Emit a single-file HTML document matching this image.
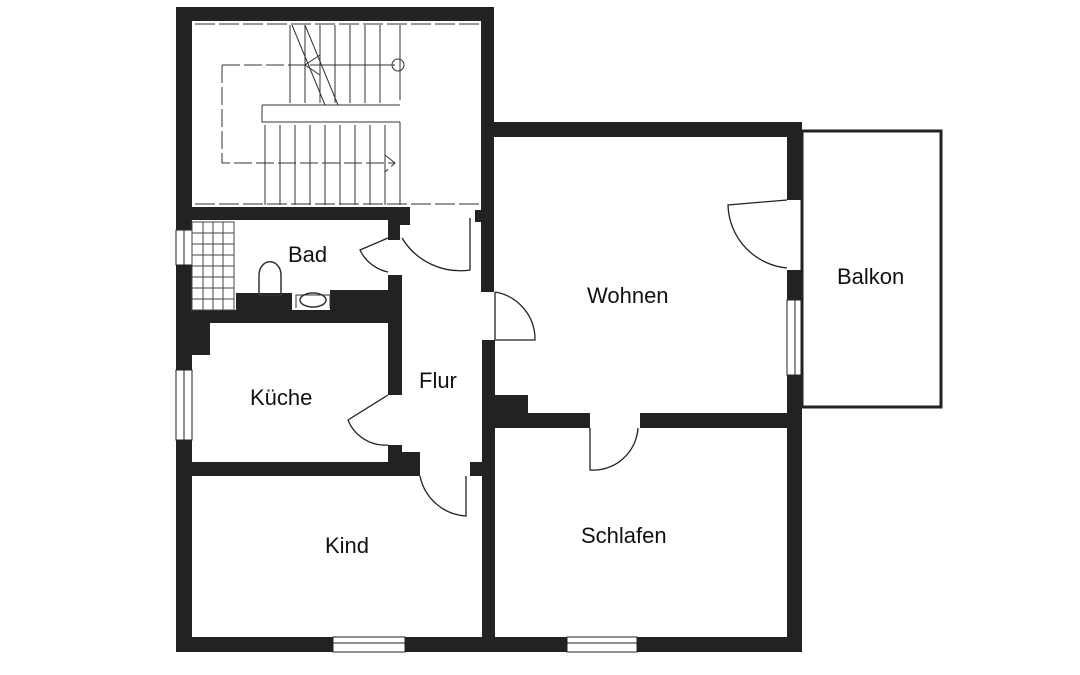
<!DOCTYPE html>
<html><head><meta charset="utf-8"><style>
html,body{margin:0;padding:0;background:#fff;width:1080px;height:675px;overflow:hidden}
svg text{font-family:"Liberation Sans",sans-serif;font-size:22px;fill:#111}
</style></head><body>
<svg width="1080" height="675" viewBox="0 0 1080 675" xmlns="http://www.w3.org/2000/svg">
<g fill="#222">
<rect x="176" y="7" width="318" height="14"/>
<rect x="176" y="7" width="16" height="645"/>
<rect x="481" y="7" width="13" height="200"/>
<rect x="192" y="207" width="218" height="13"/>
<rect x="400" y="213" width="10" height="12"/>
<rect x="475" y="210" width="8" height="12"/>
<rect x="481" y="207" width="13" height="85"/>
<rect x="494" y="122" width="308" height="15"/>
<rect x="787" y="122" width="15" height="78"/>
<rect x="787" y="270" width="15" height="30"/>
<rect x="787" y="375" width="15" height="277"/>
<rect x="482" y="340" width="13" height="297"/>
<rect x="495" y="395" width="33" height="20"/>
<rect x="495" y="413" width="95" height="15"/>
<rect x="640" y="413" width="162" height="15"/>
<rect x="176" y="637" width="157" height="15"/>
<rect x="405" y="637" width="162" height="15"/>
<rect x="637" y="637" width="165" height="15"/>
<rect x="388" y="220" width="12" height="20"/>
<rect x="388" y="275" width="14" height="120"/>
<rect x="192" y="310" width="210" height="13"/>
<rect x="236" y="293" width="56" height="17"/>
<rect x="330" y="290" width="70" height="20"/>
<rect x="192" y="323" width="18" height="32"/>
<rect x="176" y="265" width="16" height="105"/>
<rect x="388" y="445" width="14" height="20"/>
<rect x="192" y="462" width="228" height="14"/>
<rect x="470" y="462" width="12" height="14"/>
<rect x="400" y="452" width="20" height="12"/>
</g>
<g fill="#fff" stroke="#222" stroke-width="1">
<rect x="176" y="230" width="16" height="35"/>
<rect x="176" y="370" width="16" height="70"/>
<rect x="333" y="637" width="72" height="15"/>
<rect x="567" y="637" width="70" height="15"/>
<rect x="787" y="300" width="15" height="75"/>
</g>
<g stroke="#222" stroke-width="1">
<line x1="184" y1="230" x2="184" y2="265"/><line x1="184" y1="370" x2="184" y2="440"/>
<line x1="333" y1="643" x2="405" y2="643"/><line x1="567" y1="643" x2="637" y2="643"/>
<line x1="795" y1="300" x2="795" y2="375"/>
</g>
<rect x="802" y="131" width="139" height="276" fill="none" stroke="#222" stroke-width="3"/>
<g fill="none" stroke="#222" stroke-width="1.3">
<path d="M470 218 L470 270 A68 68 0 0 1 402 238"/>
<path d="M495 292 L495 340 L535 340 A48 48 0 0 0 495 292"/>
<path d="M388 238 L360 250 A40 40 0 0 0 388 272"/>
<path d="M388 395 L348 420 A40 40 0 0 0 388 445"/>
<path d="M420 476 A50 50 0 0 0 466 516 L466 476"/>
<path d="M590 428 L590 470 A45 45 0 0 0 638 428"/>
<path d="M787 200 L728 205 A65 65 0 0 0 787 268"/>
</g>
<g stroke="#333" stroke-width="1" fill="none">
<line x1="195" y1="24" x2="480" y2="24" stroke-dasharray="20 4"/>
<line x1="195" y1="204" x2="480" y2="204" stroke-dasharray="20 4"/>
<line x1="400" y1="25" x2="400" y2="100"/>
<line x1="400" y1="122" x2="400" y2="205"/>
<line x1="290" y1="25" x2="290" y2="103"/><line x1="305" y1="25" x2="305" y2="103"/><line x1="320" y1="25" x2="320" y2="103"/>
<line x1="335" y1="25" x2="335" y2="103"/><line x1="350" y1="25" x2="350" y2="103"/><line x1="365" y1="25" x2="365" y2="103"/><line x1="380" y1="25" x2="380" y2="103"/>
<path d="M292 25 L325 105"/><path d="M305 25 L338 105"/>
<line x1="262" y1="105" x2="400" y2="105"/>
<path d="M262 105 L262 122 L400 122"/>
<line x1="265" y1="125" x2="265" y2="205"/><line x1="280" y1="125" x2="280" y2="205"/><line x1="295" y1="125" x2="295" y2="205"/>
<line x1="310" y1="125" x2="310" y2="205"/><line x1="325" y1="125" x2="325" y2="205"/><line x1="340" y1="125" x2="340" y2="205"/>
<line x1="355" y1="125" x2="355" y2="205"/><line x1="370" y1="125" x2="370" y2="205"/><line x1="385" y1="125" x2="385" y2="205"/>
<path d="M222 65 L310 65 M222 65 L222 163 L395 163 M385 155 L395 163 L385 172" stroke-dasharray="18 4"/>
<path d="M310 65 L395 65 M320 55 L305 65 L320 75"/>
<circle cx="398" cy="65" r="6"/>
<g stroke="#444">
<rect x="192" y="222" width="42" height="88"/>
<line x1="203" y1="222" x2="203" y2="310"/><line x1="213" y1="222" x2="213" y2="310"/><line x1="223" y1="222" x2="223" y2="310"/>
<line x1="192" y1="233" x2="234" y2="233"/><line x1="192" y1="244" x2="234" y2="244"/><line x1="192" y1="255" x2="234" y2="255"/>
<line x1="192" y1="266" x2="234" y2="266"/><line x1="192" y1="277" x2="234" y2="277"/><line x1="192" y1="288" x2="234" y2="288"/><line x1="192" y1="299" x2="234" y2="299"/>
</g>
<path d="M259 295 L259 275 A10 12 0 0 1 281 275 L281 295 Z" stroke-width="1.5"/>
<path d="M296 308 L296 295 L330 295 L330 308" fill="#fff"/>
<ellipse cx="313" cy="300" rx="13" ry="7" stroke-width="1.5"/>
</g>
<text x="288" y="262">Bad</text>
<text x="587" y="303">Wohnen</text>
<text x="837" y="284">Balkon</text>
<text x="250" y="405">Küche</text>
<text x="419" y="388">Flur</text>
<text x="325" y="553">Kind</text>
<text x="581" y="543">Schlafen</text>
</svg>
</body></html>
